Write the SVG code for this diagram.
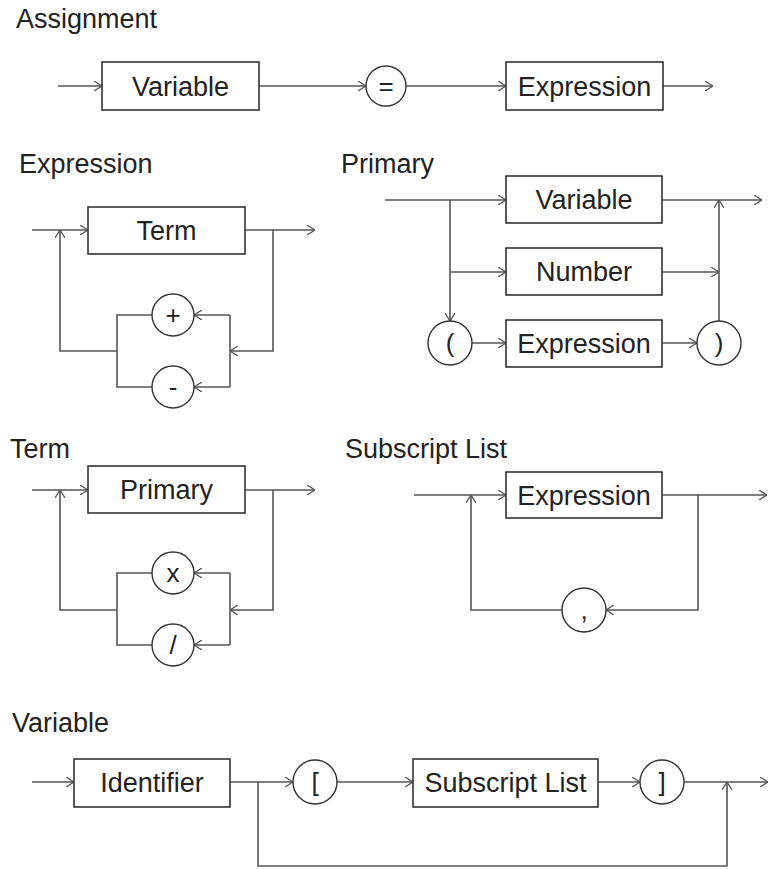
<svg xmlns="http://www.w3.org/2000/svg" width="770" height="869" viewBox="0 0 770 869">
  <defs>
    <marker id="arrow" viewBox="0 0 8 10" refX="8" refY="5" markerWidth="8" markerHeight="10" markerUnits="userSpaceOnUse" orient="auto">
      <path d="M0,0 L8,5 L0,10" fill="none" stroke="#555" stroke-width="1.3"/>
    </marker>
  </defs>
  <style>
    .title { font-family: "Liberation Sans", Arial, sans-serif; font-size: 27px; fill: #222; }
    .lbl { font-family: "Liberation Sans", Arial, sans-serif; font-size: 27px; fill: #222; text-anchor: middle; }
    .sym { font-family: "Liberation Sans", Arial, sans-serif; font-size: 26px; fill: #222; text-anchor: middle; }
    .box { fill: #fff; stroke: #333; stroke-width: 1.6; }
    .term { fill: #fff; stroke: #333; stroke-width: 1.4; }
    .wire { fill: none; stroke: #555; stroke-width: 1.6; }
    .arr { marker-end: url(#arrow); }
  </style>
  <rect width="770" height="869" fill="#fff"/>

  <!-- Section titles -->
  <g id="titles">
    <text class="title" x="16" y="28">Assignment</text>
    <text class="title" x="19" y="173">Expression</text>
    <text class="title" x="341" y="173">Primary</text>
    <text class="title" x="10" y="458">Term</text>
    <text class="title" x="345" y="458">Subscript List</text>
    <text class="title" x="12" y="732">Variable</text>
  </g>

  <!-- Connectors -->
  <g id="connectors">
    <!-- Assignment -->
    <path class="wire arr" d="M58,86 H102"/>
    <path class="wire arr" d="M259,86 H366"/>
    <path class="wire arr" d="M406,86 H506"/>
    <path class="wire arr" d="M663,86 H713"/>

    <!-- Expression -->
    <path class="wire arr" d="M32,230 H88"/>
    <path class="wire arr" d="M245,230 H315"/>
    <path class="wire arr" d="M273,230 V351 H230"/>
    <path class="wire" d="M230,315 V387"/>
    <path class="wire arr" d="M230,315 H194"/>
    <path class="wire arr" d="M230,387 H194"/>
    <path class="wire" d="M152,315 H117 V387 H152"/>
    <path class="wire arr" d="M117,351 H60 V230"/>

    <!-- Primary -->
    <path class="wire arr" d="M385,200 H506"/>
    <path class="wire arr" d="M450,200 V321"/>
    <path class="wire arr" d="M450,272 H506"/>
    <path class="wire arr" d="M472,343 H506"/>
    <path class="wire arr" d="M662,343 H697"/>
    <path class="wire arr" d="M719,321 V200"/>
    <path class="wire arr" d="M662,272 H719"/>
    <path class="wire arr" d="M662,200 H762"/>

    <!-- Term -->
    <path class="wire arr" d="M32,490 H88"/>
    <path class="wire arr" d="M245,490 H315"/>
    <path class="wire arr" d="M273,490 V610 H230"/>
    <path class="wire" d="M230,573 V645"/>
    <path class="wire arr" d="M230,573 H194"/>
    <path class="wire arr" d="M230,645 H194"/>
    <path class="wire" d="M152,573 H117 V645 H152"/>
    <path class="wire arr" d="M117,610 H60 V490"/>

    <!-- Subscript List -->
    <path class="wire arr" d="M414,495 H506"/>
    <path class="wire arr" d="M662,495 H767"/>
    <path class="wire arr" d="M698,495 V610 H606"/>
    <path class="wire arr" d="M562,610 H471 V495"/>

    <!-- Variable -->
    <path class="wire arr" d="M32,782 H74"/>
    <path class="wire arr" d="M230,782 H293"/>
    <path class="wire arr" d="M337,782 H413"/>
    <path class="wire arr" d="M598,782 H640"/>
    <path class="wire arr" d="M684,782 H768"/>
    <path class="wire arr" d="M258,782 V866 H727 V782"/>
  </g>

  <!-- Assignment nodes -->
  <g id="asg-variable"><rect class="box" x="102" y="62" width="157" height="48"/><text class="lbl" x="180.5" y="95.5">Variable</text></g>
  <g id="asg-equals"><circle class="term" cx="386" cy="86" r="20"/><text class="sym" x="386" y="95">=</text></g>
  <g id="asg-expression"><rect class="box" x="506" y="62" width="157" height="48"/><text class="lbl" x="584.5" y="95.5">Expression</text></g>

  <!-- Expression nodes -->
  <g id="expr-term"><rect class="box" x="88" y="207" width="157" height="47"/><text class="lbl" x="166.5" y="240">Term</text></g>
  <g id="expr-plus"><circle class="term" cx="173" cy="315" r="21"/><text class="sym" x="173" y="324">+</text></g>
  <g id="expr-minus"><circle class="term" cx="173" cy="387" r="21"/><text class="sym" x="173" y="396">-</text></g>

  <!-- Primary nodes -->
  <g id="prim-variable"><rect class="box" x="506" y="176" width="156" height="47"/><text class="lbl" x="584" y="209">Variable</text></g>
  <g id="prim-number"><rect class="box" x="506" y="248" width="156" height="47"/><text class="lbl" x="584" y="281">Number</text></g>
  <g id="prim-expression"><rect class="box" x="506" y="320" width="156" height="47"/><text class="lbl" x="584" y="353">Expression</text></g>
  <g id="prim-lparen"><circle class="term" cx="450" cy="343" r="22"/><text class="sym" x="450" y="352">(</text></g>
  <g id="prim-rparen"><circle class="term" cx="719" cy="343" r="22"/><text class="sym" x="719" y="352">)</text></g>

  <!-- Term nodes -->
  <g id="term-primary"><rect class="box" x="88" y="466" width="157" height="47"/><text class="lbl" x="166.5" y="499">Primary</text></g>
  <g id="term-times"><circle class="term" cx="173" cy="573" r="21"/><text class="sym" x="173" y="582">x</text></g>
  <g id="term-divide"><circle class="term" cx="173" cy="645" r="21"/><text class="sym" x="173" y="654">/</text></g>

  <!-- Subscript List nodes -->
  <g id="sub-expression"><rect class="box" x="506" y="472" width="156" height="46"/><text class="lbl" x="584" y="504.5">Expression</text></g>
  <g id="sub-comma"><circle class="term" cx="584" cy="610" r="22"/><text class="sym" x="584" y="619">,</text></g>

  <!-- Variable nodes -->
  <g id="var-identifier"><rect class="box" x="74" y="759" width="156" height="48"/><text class="lbl" x="152" y="791.5">Identifier</text></g>
  <g id="var-lbracket"><circle class="term" cx="315" cy="782" r="22"/><text class="sym" x="315" y="791">[</text></g>
  <g id="var-subscript"><rect class="box" x="413" y="759" width="185" height="48"/><text class="lbl" x="505.5" y="791.5">Subscript List</text></g>
  <g id="var-rbracket"><circle class="term" cx="662" cy="782" r="22"/><text class="sym" x="662" y="791">]</text></g>
</svg>
